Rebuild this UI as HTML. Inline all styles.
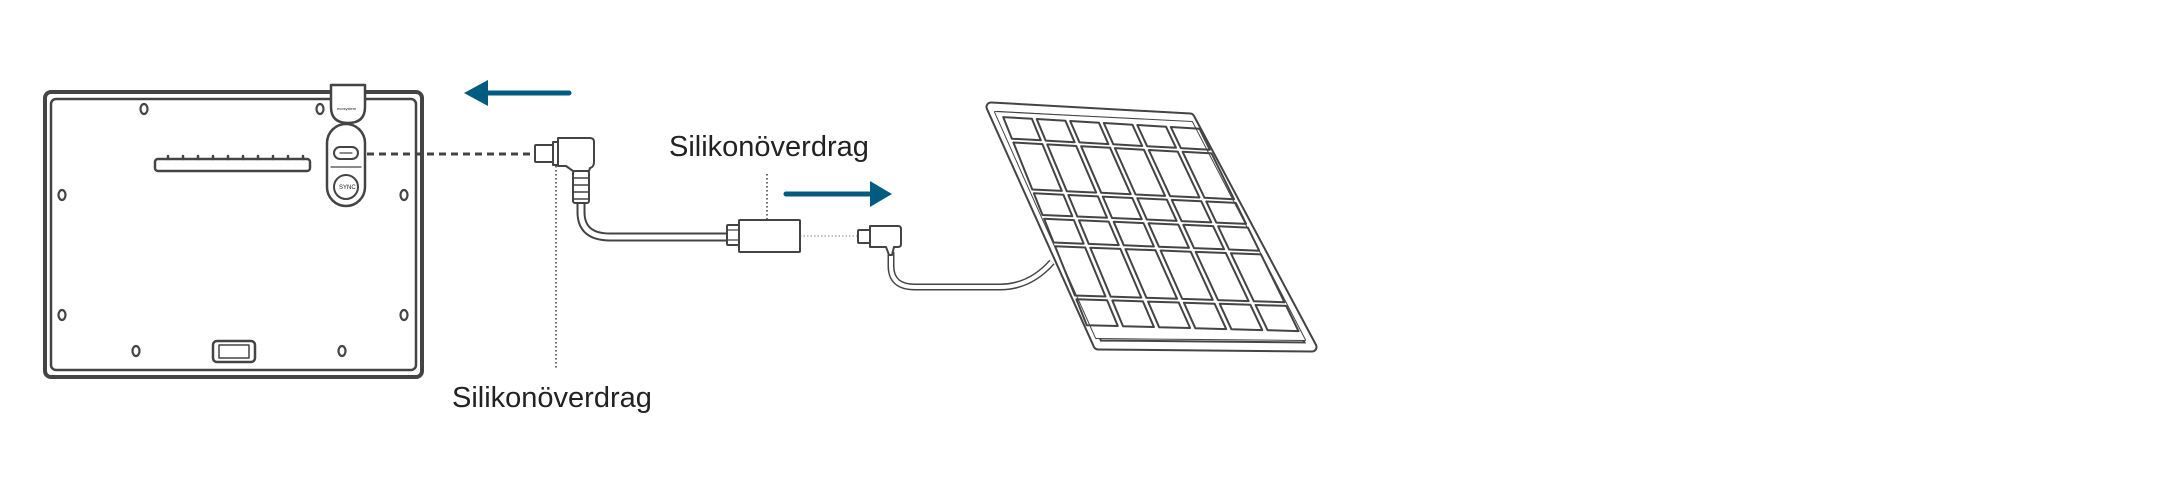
<!DOCTYPE html>
<html><head><meta charset="utf-8"><style>
html,body{margin:0;padding:0;background:#fff;}
svg{display:block}
text{font-family:"Liberation Sans",sans-serif;fill:#222}
</style></head><body>
<svg id="s" width="2180" height="504" viewBox="0 0 2180 504" xmlns="http://www.w3.org/2000/svg">
<rect width="2180" height="504" fill="#fff"/>
<g fill="none" stroke="#444" stroke-linejoin="round" stroke-linecap="round">
 <!-- frame -->
 <rect x="45" y="92" width="377" height="285" rx="6" stroke-width="4"/>
 <rect x="51" y="99" width="365" height="271" rx="5" stroke-width="2.5"/>
 <g stroke-width="2.2">
  <ellipse cx="144" cy="109" rx="3.5" ry="5"/><ellipse cx="320" cy="109" rx="3.5" ry="5"/>
  <ellipse cx="62" cy="195" rx="3.5" ry="5"/><ellipse cx="404" cy="195" rx="3.5" ry="5"/>
  <ellipse cx="62" cy="315" rx="3.5" ry="5"/><ellipse cx="404" cy="315" rx="3.5" ry="5"/>
  <ellipse cx="136" cy="351" rx="3.5" ry="5"/><ellipse cx="342" cy="351" rx="3.5" ry="5"/>
 </g>
 <rect x="155" y="159" width="155" height="12" rx="3" stroke-width="2.5"/>
 <g stroke-width="2.5">
  <path d="M168 156v3M183 156v3M198 156v3M213 156v3M228 156v3M243 156v3M258 156v3M273 156v3M288 156v3M303 156v3"/>
 </g>
 <rect x="213" y="341" width="42" height="21" rx="4" stroke-width="2.5"/>
 <rect x="219" y="345" width="30" height="13" stroke-width="1.5"/>
 <!-- tab -->
 <path d="M331 85h34v22q0 16-17 16q-17 0-17-16z" fill="#fff" stroke-width="2.5"/>
 <rect x="327" y="124" width="38" height="82" rx="19" fill="#fff" stroke-width="2.5"/>
 <rect x="334" y="147" width="24" height="12" rx="6" stroke-width="2"/>
 <path d="M340 153h12" stroke-width="1.2"/>
 <path d="M331 167h30" stroke-width="1.2"/>
 <circle cx="346" cy="187" r="12" stroke-width="2"/>
</g>
<text x="337" y="110" font-size="4" fill="#444">ecosystem</text>
<text x="339" y="189" font-size="6" fill="#444">SYNC</text>
<!-- dashed line -->
<path d="M367 154H531" stroke="#444" stroke-width="3" stroke-dasharray="7,5"/>
<!-- arrows -->
<path d="M487 93H569" stroke="#005b80" stroke-width="5" stroke-linecap="round"/>
<path d="M464 93L488 80V106Z" fill="#005b80"/>
<path d="M786 194H872" stroke="#005b80" stroke-width="5" stroke-linecap="round"/>
<path d="M892 194L870 181V207Z" fill="#005b80"/>
<!-- dotted leaders -->
<path d="M556 162V368" stroke="#333" stroke-width="1.5" stroke-dasharray="1.5,2.5"/>
<path d="M767 174V223" stroke="#333" stroke-width="1.5" stroke-dasharray="1.5,2.5"/>
<path d="M800 236H858" stroke="#999" stroke-width="1.3" stroke-dasharray="1.5,2"/>
<!-- cables -->
<g fill="none" stroke-linecap="butt" stroke-linejoin="round">
 <path d="M581 200V212Q581 237 610 237H728" stroke="#444" stroke-width="9"/>
 <path d="M581 200V212Q581 237 610 237H728" stroke="#fff" stroke-width="5"/>
 <path d="M891 252V266Q891 287 915 287H1000Q1030 287 1052 262" stroke="#444" stroke-width="7"/>
 <path d="M891 252V266Q891 287 915 287H1000Q1030 287 1052 262" stroke="#fff" stroke-width="4"/>
</g>
<g fill="#fff" stroke="#444" stroke-width="2" stroke-linejoin="round">
 <!-- L plug -->
 <rect x="535" y="145" width="19" height="17" rx="1"/>
 <rect x="553" y="142" width="5" height="23"/>
 <path d="M558 138H590Q594 138 594 142V162Q594 167 590 168L589 171H573L566 166H558Z"/>
 <rect x="573" y="171" width="16" height="32" rx="2"/>
 <path d="M573 178h16M573 185h16M573 192h16M573 199h16" fill="none" stroke-width="1.5"/>
 <!-- USB female -->
 <rect x="727" y="225" width="13" height="20" rx="1"/>
 <path d="M727 230h13M727 240h13" fill="none" stroke-width="1.3"/>
 <rect x="739" y="220" width="61" height="32" rx="1"/>
 <!-- micro plug -->
 <rect x="858" y="230" width="13" height="13" rx="1"/>
 <path d="M870 226H898Q901 226 901 229V244Q901 247 898 247H894L892 255H889L886 247H870Z"/>
</g>
<!-- solar panel -->
<g id="panel" fill="none" stroke="#444" stroke-linejoin="round">
 <polygon points="991,107 1190,118 1312,347 1098,345" stroke-width="11" stroke-linejoin="round"/>
 <polygon points="991,107 1190,118 1312,347 1098,345" stroke="#fff" stroke-width="7"/>
 <polygon points="995,112 1192,122 1305,340 1096,338" stroke-width="2" rx="5"/>
 <polygon points="995,112 1192,122 1305,340 1096,338" fill="#fff" stroke="none"/>
 <g id="cells" stroke-width="2"></g>
</g>
<text x="452" y="407" font-size="29">Silikonöverdrag</text>
<text x="669" y="156" font-size="29">Silikonöverdrag</text>
</svg>
<script>
var TL=[1000,115],TR=[1201,127],BR=[1302,333],BL=[1085,327];
function P(u,v){return [TL[0]*(1-u)*(1-v)+TR[0]*u*(1-v)+BR[0]*u*v+BL[0]*(1-u)*v,
TL[1]*(1-u)*(1-v)+TR[1]*u*(1-v)+BR[1]*u*v+BL[1]*(1-u)*v];}
var rows=[0,0.12,0.36,0.48,0.61,0.86,1.0],g=document.getElementById('cells'),gu=0.012,gv=0.009,s='';
for(var r=0;r<6;r++)for(var c=0;c<6;c++){
 var u0=c/6+gu,u1=(c+1)/6-gu,v0=rows[r]+gv,v1=rows[r+1]-gv;
 var p=[P(u0,v0),P(u1,v0),P(u1,v1),P(u0,v1)];
 s+='<polygon points="'+p.map(function(q){return q[0].toFixed(1)+','+q[1].toFixed(1)}).join(' ')+'"/>';
}
g.innerHTML=s;
</script>
</body></html>
